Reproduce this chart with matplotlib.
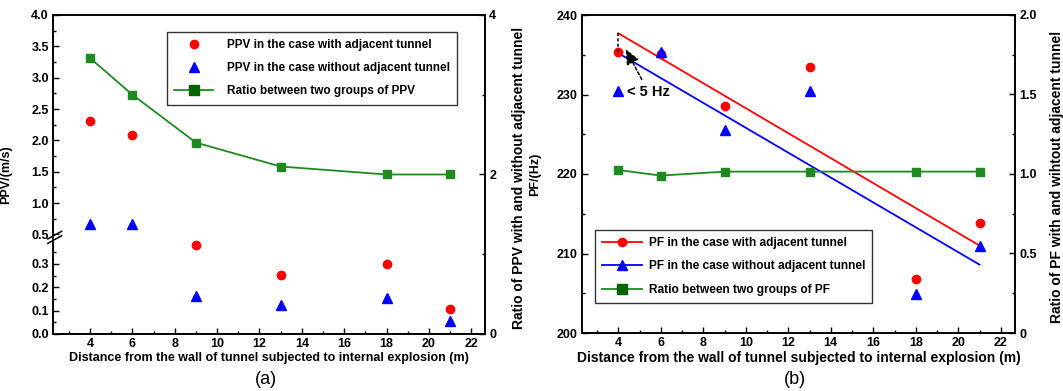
import numpy as np
import matplotlib.pyplot as plt
from matplotlib.lines import Line2D
from matplotlib.ticker import FixedLocator, FuncFormatter

plt.rcParams['font.family'] = ['Liberation Sans', 'DejaVu Sans']
plt.rcParams['font.weight'] = 'bold'
plt.rcParams['axes.labelweight'] = 'bold'

dist = [4, 6, 9, 13, 18, 21]

# panel (a): PPV
ppv_with = [2.31, 2.08, 0.38, 0.251, 0.298, 0.105]
ppv_without = [0.66, 0.66, 0.162, 0.123, 0.152, 0.057]
ppv_ratio = [3.46, 3.0, 2.40, 2.10, 2.0, 2.0]

# panel (b): PF
pf_with = [235.4, 235.1, 228.6, 233.4, 206.8, 213.8]
pf_without = [230.5, 235.4, 225.5, 230.5, 204.9, 211.0]
pf_ratio = [1.025, 0.99, 1.015, 1.015, 1.015, 1.015]
fit_x = [4, 21]
pf_with_fit = [237.7, 211.0]
pf_without_fit = [235.2, 208.6]

xlabel = 'Distance from the wall of tunnel subjected to internal explosion (m)'
RED = '#ff0000'
BLUE = '#0000ff'
GREEN = '#1f8a1f'
DKGREEN = '#006400'

fig = plt.figure(figsize=(10.63, 3.91), dpi=100)
axa = fig.add_axes([53/1063, 57/391, 432/1063, 319/391])
axb = fig.add_axes([582/1063, 58/391, 433/1063, 318/391])


def style(ax):
    ax.tick_params(which='both', direction='in', labelsize=9, width=1, pad=3)
    ax.tick_params(which='major', length=4.5)
    ax.tick_params(which='minor', length=2.5)
    for s in ax.spines.values():
        s.set_linewidth(1.2)


# broken axis mapping for the left scale of (a)
brk_v = [0, 0.4, 0.5, 4.0]
brk_p = [0, 94, 100, 320.5]


def fwd(y):
    return np.interp(y, brk_v, brk_p, left=-1e3, right=1e3)


def inv(p):
    return np.interp(p, brk_p, brk_v)


# ---------- (a)
axa.set_yscale('function', functions=(fwd, inv))
axa.plot(dist, ppv_with, 'o', color=RED, ms=6, ls='none')
axa.plot(dist, ppv_without, '^', color=BLUE, ms=6.5, ls='none')
axa.set_xlim(2.25, 22.65)
axa.set_ylim(0, 4.0)
axa.set_xticks(range(4, 23, 2))
axa.set_xticks(range(3, 23, 2), minor=True)
axa.yaxis.set_major_locator(FixedLocator([0, 0.1, 0.2, 0.3] + list(np.arange(0.5, 4.01, 0.5))))
axa.yaxis.set_minor_locator(FixedLocator([0.05, 0.15, 0.25, 0.35] + list(np.arange(0.75, 4.0, 0.5))))
axa.yaxis.set_major_formatter(FuncFormatter(lambda v, p: f'{v:.1f}'))
axa.yaxis.set_minor_formatter(FuncFormatter(lambda v, p: ''))
axa.set_ylabel('PPV/(m/s)', fontsize=9)
axa.yaxis.set_label_coords(-0.095, 0.5)
axa.set_xlabel(xlabel, fontsize=9, labelpad=1)
style(axa)

# break marks on left spine
axa.add_patch(plt.Rectangle((-0.01, 0.296), 0.02, 0.014, transform=axa.transAxes,
                            color='white', clip_on=False, zorder=5))
for yy in (0.296, 0.31):
    axa.plot([-0.012, 0.02], [yy - 0.012, yy + 0.012], color='black', lw=1.1,
             transform=axa.transAxes, clip_on=False, zorder=6)

ta = axa.twinx()
ta.plot(dist, ppv_ratio, '-s', color=GREEN, lw=1.3, ms=5.5, mfc=GREEN, mec=GREEN)
ta.set_ylim(0, 4)
ta.set_yticks([0, 2, 4])
ta.set_yticks([1, 3], minor=True)
ta.set_ylabel('Ratio of PPV with and without adjacent tunnel', fontsize=10)
ta.yaxis.set_label_coords(1.062, 0.49)
style(ta)

ha = [Line2D([], [], marker='o', color=RED, ls='none', ms=6),
      Line2D([], [], marker='^', color=BLUE, ls='none', ms=6.5),
      Line2D([], [], marker='s', color=GREEN, mfc=DKGREEN, mec=DKGREEN, lw=1.3, ms=6.5)]
la = ['PPV in the case with adjacent tunnel',
      'PPV in the case without adjacent tunnel',
      'Ratio between two groups of PPV']
leg = ta.legend(ha, la, loc='upper left', bbox_to_anchor=(0.264, 0.947), borderaxespad=0,
                fontsize=8.5, fancybox=False, edgecolor='black', handlelength=3.3,
                labelspacing=0.95, borderpad=0.6, handletextpad=1.2)
leg.get_frame().set_linewidth(1.0)
fig.text(266/1063, 1 - 380/391, '(a)', ha='center', va='center', fontsize=13, fontweight='normal')

# ---------- (b)
axb.plot(fit_x, pf_with_fit, '-', color=RED, lw=1.3)
axb.plot(fit_x, pf_without_fit, '-', color=BLUE, lw=1.3)
axb.plot(dist, pf_with, 'o', color=RED, ms=6, ls='none')
axb.plot(dist, pf_without, '^', color=BLUE, ms=6.5, ls='none')
axb.set_xlim(2.29, 22.67)
axb.set_ylim(200, 240)
axb.set_xticks(range(4, 23, 2))
axb.set_xticks(range(3, 23, 2), minor=True)
axb.set_yticks(range(200, 241, 10))
axb.set_yticks(range(205, 240, 10), minor=True)
axb.set_ylabel('PF/(Hz)', fontsize=9)
axb.yaxis.set_label_coords(-0.095, 0.5)
axb.set_xlabel(xlabel, fontsize=10, labelpad=1)
style(axb)

axb.plot([fit_x[0], fit_x[0]], [pf_with_fit[0], pf_without_fit[0]], ls=(0, (2, 1.5)),
         color='black', lw=1.1)
axb.annotate('', xy=(4.35, 235.7), xytext=(5.1, 231.9),
             arrowprops=dict(arrowstyle='-|>,head_length=0.9,head_width=0.4', color='black',
                             lw=1.1, ls=(0, (2, 1.5)), shrinkA=0, shrinkB=0))
axb.text(4.4, 230.3, '< 5 Hz', fontsize=10.5, ha='left', va='center')

tb = axb.twinx()
tb.plot(dist, pf_ratio, '-s', color=GREEN, lw=1.3, ms=5.5, mfc=GREEN, mec=GREEN)
tb.set_ylim(0, 2.0)
tb.set_yticks([0, 0.5, 1.0, 1.5, 2.0])
tb.set_yticklabels(['0', '0.5', '1.0', '1.5', '2.0'])
tb.set_yticks(np.arange(0.25, 2.0, 0.5), minor=True)
tb.set_ylabel('Ratio of PF with and wihtout adjacent tunnel', fontsize=10)
tb.yaxis.set_label_coords(1.081, 0.49)
style(tb)

hb = [Line2D([], [], marker='o', color=RED, lw=1.3, ms=6),
      Line2D([], [], marker='^', color=BLUE, lw=1.3, ms=6.5),
      Line2D([], [], marker='s', color=GREEN, mfc=DKGREEN, mec=DKGREEN, lw=1.3, ms=6.5)]
lb = ['PF in the case with adjacent tunnel',
      'PF in the case without adjacent tunnel',
      'Ratio between two groups of PF']
leg = tb.legend(hb, lb, loc='upper left', bbox_to_anchor=(0.030, 0.324), borderaxespad=0,
                fontsize=8.6, fancybox=False, edgecolor='black', handlelength=3.3,
                labelspacing=0.95, borderpad=0.6, handletextpad=0.6)
leg.get_frame().set_linewidth(1.0)
fig.text(795/1063, 1 - 380/391, '(b)', ha='center', va='center', fontsize=13, fontweight='normal')

fig.savefig('out.png', dpi=100)
